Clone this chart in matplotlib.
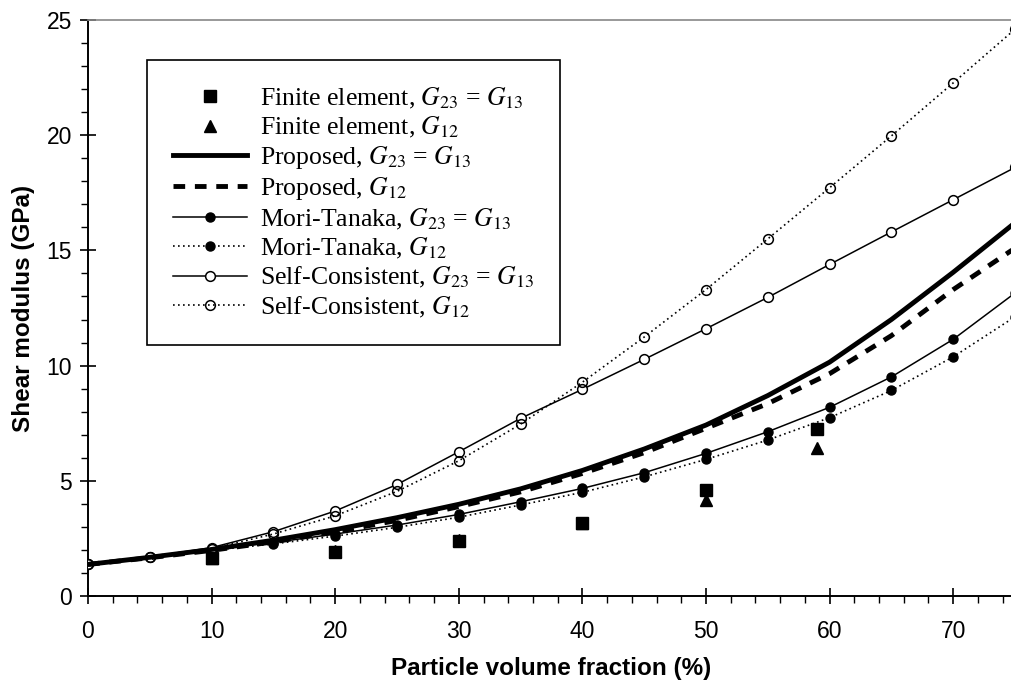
import matplotlib
matplotlib.use("Agg")
import matplotlib.pyplot as plt
from matplotlib.ticker import MultipleLocator

plt.rcParams["font.family"] = ["Liberation Sans", "DejaVu Sans"]
plt.rcParams["mathtext.fontset"] = "stix"

# particle volume fraction (%)
vf = [0, 5, 10, 15, 20, 25, 30, 35, 40, 45, 50, 55, 60, 65, 70, 75]

prop_g23 = [1.37, 1.68, 2.02, 2.42, 2.88, 3.40, 3.98, 4.65, 5.45, 6.38, 7.42, 8.70, 10.15, 12.0, 14.05, 16.2]
prop_g12 = [1.37, 1.66, 1.98, 2.35, 2.78, 3.28, 3.88, 4.52, 5.32, 6.22, 7.28, 8.35, 9.65, 11.3, 13.3, 15.1]
mt_g23 = [1.37, 1.70, 2.03, 2.32, 2.69, 3.08, 3.54, 4.09, 4.67, 5.35, 6.19, 7.13, 8.19, 9.51, 11.14, 13.15]
mt_g12 = [1.37, 1.68, 1.98, 2.26, 2.60, 2.98, 3.42, 3.95, 4.50, 5.17, 5.93, 6.77, 7.74, 8.92, 10.38, 12.12]
sc_g23 = [1.37, 1.70, 2.10, 2.79, 3.69, 4.84, 6.26, 7.71, 8.97, 10.27, 11.60, 12.96, 14.39, 15.80, 17.20, 18.60]
sc_g12 = [1.37, 1.68, 2.05, 2.69, 3.48, 4.54, 5.87, 7.46, 9.28, 11.24, 13.30, 15.50, 17.72, 19.97, 22.27, 24.60]

# finite element results
fe_vf_g23 = [10, 20, 30, 40, 50, 59]
fe_g23 = [1.63, 1.92, 2.40, 3.15, 4.60, 7.24]
fe_vf_g12 = [10, 20, 30, 40, 50, 59]
fe_g12 = [1.63, 1.95, 2.44, 3.18, 4.18, 6.41]

fig = plt.figure(figsize=(10.12, 6.85), dpi=100)
ax = fig.add_axes([88 / 1012, 89 / 685, 927 / 1012, 576 / 685])

dot = (0, (1, 2))
ax.plot(fe_vf_g12, fe_g12, ls="none", marker="^", ms=9, color="black", zorder=5,
        label=r"Finite element, $G_{12}$")
ax.plot(fe_vf_g23, fe_g23, ls="none", marker="s", ms=9, color="black", zorder=6,
        label=r"Finite element, $G_{23}$ = $G_{13}$")
ax.plot(vf, prop_g23, color="black", lw=3.5, zorder=4,
        label=r"Proposed, $G_{23}$ = $G_{13}$")
ax.plot(vf, prop_g12, color="black", lw=3.5, ls=(0, (2.4, 2.0)), zorder=4,
        label=r"Proposed, $G_{12}$")
ax.plot(vf, mt_g23, color="black", lw=1.1, marker="o", ms=6.5, zorder=3,
        label=r"Mori-Tanaka, $G_{23}$ = $G_{13}$")
ax.plot(vf, mt_g12, color="black", lw=1.2, ls=dot, marker="o", ms=6.5, zorder=3,
        label=r"Mori-Tanaka, $G_{12}$")
ax.plot(vf, sc_g23, color="black", lw=1.1, marker="o", ms=7, mfc="white", mew=1.1, zorder=3,
        label=r"Self-Consistent, $G_{23}$ = $G_{13}$")
ax.plot(vf, sc_g12, color="black", lw=1.2, ls=dot, marker="o", ms=7, mfc="none", mew=1.1, zorder=3,
        label=r"Self-Consistent, $G_{12}$")

ax.set_xlim(0, 75)
ax.set_ylim(0, 25)
ax.xaxis.set_major_locator(MultipleLocator(10))
ax.xaxis.set_minor_locator(MultipleLocator(2))
ax.yaxis.set_major_locator(MultipleLocator(5))
ax.yaxis.set_minor_locator(MultipleLocator(1))
ax.tick_params(which="major", direction="inout", length=11, width=1.2, labelsize=16.5, pad=12)
ax.tick_params(which="minor", direction="out", length=5, width=1)
ax.tick_params(axis="y", which="major", pad=6)

for s in ["left", "bottom"]:
    ax.spines[s].set_linewidth(1.4)
ax.spines["top"].set_color("#888888")
ax.spines["top"].set_linewidth(1.2)
ax.spines["right"].set_visible(False)

ax.set_xlabel("Particle volume fraction (%)", fontsize=17.5, fontweight="bold", labelpad=10)
ax.set_ylabel("Shear modulus (GPa)", fontsize=17.5, fontweight="bold", labelpad=8)

handles, labels = ax.get_legend_handles_labels()
order = [1, 0, 2, 3, 4, 5, 6, 7]
leg = ax.legend([handles[i] for i in order], [labels[i] for i in order],
                loc="upper left", bbox_to_anchor=(147 / 1012, 1 - 60 / 685),
                bbox_transform=fig.transFigure, frameon=True, fancybox=False,
                edgecolor="black", framealpha=1, borderpad=1.0, labelspacing=0.16,
                handlelength=2.9, handletextpad=0.5, borderaxespad=0,
                prop={"family": "Liberation Serif", "size": 18.5})
leg.get_frame().set_linewidth(1.2)

fig.savefig("out.png", dpi=100)
